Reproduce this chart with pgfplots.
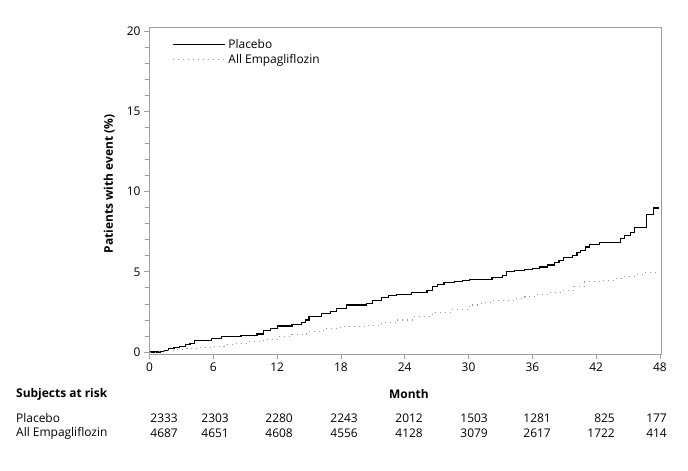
\documentclass[border=0pt]{standalone}
\usepackage{fontspec}
\setmainfont{Open Sans}
\usepackage{pgfplots}
\pgfplotsset{compat=1.18}
\begin{document}
\begin{tikzpicture}
\path[use as bounding box] (-149bp,-117bp) rectangle (539bp,354bp);
\begin{axis}[
  scale only axis,
  width=512bp, height=327bp,
  xmin=-0.05, xmax=48.1,
  ymin=-0.12, ymax=20.25,
  xtick={0,6,...,48},
  ytick={0,5,...,20},
  minor ytick={1,2,3,4,6,7,8,9,11,12,13,14,16,17,18,19},
  tick align=outside,
  major tick length=5bp,
  minor tick length=4bp,
  xtick pos=bottom, ytick pos=left,
  axis line style={gray!75, line width=0.9bp},
  every tick/.style={gray!75, line width=0.8bp},
  /pgf/number format/assume math mode=true,
  ticklabel style={font=\fontsize{12}{14}\selectfont},
  ylabel={\textbf{Patients with event (\%)}},
  ylabel style={font=\fontsize{12}{14}\selectfont, at={(axis description cs:-0.06,0.52)}},
  legend style={draw=none, fill=none, at={(rel axis cs:0.045,0.97)}, anchor=north west,
    font=\fontsize{12}{14}\selectfont, row sep=1bp, inner sep=0pt, nodes={inner xsep=3bp}},
  legend cell align=left,
  legend image code/.code={\draw[#1] (0bp,0bp) -- (52bp,0bp);},
  clip=false,
]
\addplot[const plot, black, line width=1.2bp] coordinates {
(0,0) (0.6,0) (1.0,0.05) (1.4,0.12) (1.8,0.2) (2.3,0.27) (2.8,0.36) (3.4,0.45) (3.8,0.55) (4.2,0.7)
(5.6,0.7) (5.8,0.83) (6.8,0.95) (8.6,1.04) (10.1,1.12) (10.7,1.33) (11.4,1.45) (12.05,1.62)
(13.4,1.72) (14.3,1.83) (14.7,2.0) (15.0,2.2) (16.2,2.4) (17.0,2.55) (17.6,2.72) (18.5,2.93)
(20.4,3.03) (21.0,3.2) (21.8,3.4) (22.5,3.5) (23.2,3.6) (24.6,3.71) (26.1,3.82) (26.6,4.1)
(27.1,4.22) (27.7,4.32) (28.7,4.38) (29.4,4.48) (30.1,4.54) (32.2,4.65) (33.2,4.77) (33.6,5.02)
(34.3,5.1) (35.3,5.15) (36.0,5.22) (36.7,5.3) (37.4,5.42) (38.1,5.56) (38.5,5.7) (38.96,5.87)
(39.8,6.04) (40.2,6.2) (40.5,6.35) (41.0,6.55) (41.4,6.72) (42.3,6.85) (44.0,6.85) (44.3,7.05)
(44.7,7.28) (45.2,7.45) (45.6,7.74) (46.7,8.57) (47.4,8.98) (47.9,8.98)
};
\addlegendentry{Placebo}
\addplot[const plot, gray!80, line width=1.1bp, dash pattern=on 1bp off 4bp] coordinates {
(0,0) (0.8,0.02) (1.5,0.08) (2.3,0.17) (3.5,0.23) (4.6,0.3) (5.8,0.37) (7.0,0.46) (8.2,0.55)
(9.3,0.64) (10.7,0.78) (12.05,0.95) (13.4,1.1) (14.8,1.27) (16.4,1.45) (18.0,1.62) (20.4,1.68)
(21.8,1.83) (23.2,2.0) (24.9,2.22) (26.6,2.45) (28.3,2.68) (30.1,2.93) (31.2,3.08) (32.2,3.2)
(34.3,3.34) (35.3,3.45) (36.4,3.6) (37.6,3.72) (38.8,3.86) (39.9,4.1) (40.9,4.38) (42.6,4.48)
(43.7,4.6) (44.7,4.73) (45.6,4.84) (46.4,4.94) (47.9,4.94)
};
\addlegendentry{All Empagliflozin}
\end{axis}
\begin{scope}[every node/.style={font=\fontsize{12}{14}\selectfont, inner sep=0pt}]
\node[anchor=west, font=\fontsize{12}{14}\selectfont\bfseries] at (-133bp,-40bp) {Subjects at risk};
\node[font=\fontsize{12}{14}\selectfont\bfseries] at (260bp,-40bp) {Month};
\node[anchor=west] at (-133bp,-64bp) {Placebo};
\node[anchor=west] at (-133bp,-79bp) {All Empagliflozin};
\foreach \x/\a/\b in {29/2333/4687, 80/2303/4651, 144/2280/4608, 209/2243/4556, 274/2012/4128, 339/1503/3079, 402/1281/2617, 466/825/1722, 518/177/414} {
  \node[anchor=east] at (\x bp,-64bp) {\a};
  \node[anchor=east] at (\x bp,-79bp) {\b};
}
\end{scope}
\end{tikzpicture}
\end{document}
